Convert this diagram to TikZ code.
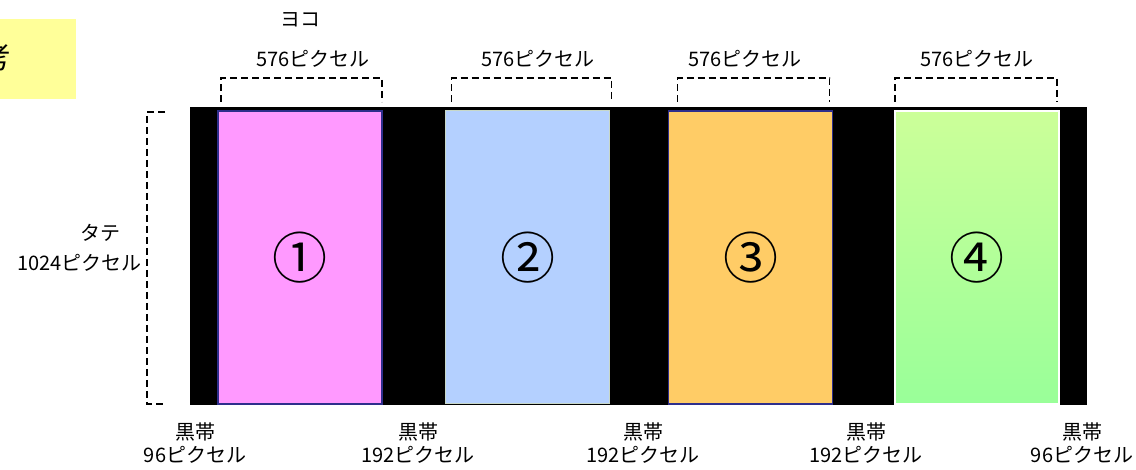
\documentclass[tikz,border=0pt]{standalone}
\usepackage{fontspec}
\setmainfont{Noto Sans CJK JP}

\definecolor{notefill}{HTML}{FFFF99}
\definecolor{pinkfill}{HTML}{FF99FF}
\definecolor{bluefill}{HTML}{B4D0FF}
\definecolor{orangefill}{HTML}{FFCC66}
\definecolor{greentop}{HTML}{CCFF99}
\definecolor{greenbot}{HTML}{99FF99}
\definecolor{navyline}{HTML}{2E2E8C}
\definecolor{paleline}{HTML}{C8D8C8}

\tikzset{
    panel/.style={minimum width=164, minimum height=293, line width=1.5pt, font=\fontsize{55}{57}\selectfont},
    label/.style={font=\fontsize{20}{23}\selectfont, align=center},
    bracket/.style={line width=1.7pt, dash pattern=on 7pt off 4pt}
}

\begin{document}
\begin{tikzpicture}[x=1pt,y=1pt]
    \useasboundingbox (0,0) rectangle (1136,469);

        \begin{scope}[every node/.style={inner sep=0pt,outer sep=0pt}]
            \node[fill=notefill,minimum width=76,minimum height=80] (note) at (38,410) {};
            \node[anchor=east,font=\fontsize{30}{32}\selectfont] (notetext) at (11,412) {考};

            \node[fill=black,minimum width=897,minimum height=298] (band) at (638.5,213) {};

            \node[panel,fill=pinkfill,draw=navyline] (1) at (300,211.5) {①};
            \node[panel,fill=bluefill,draw=paleline,line width=1pt] (2) at (527.5,211.5) {②};
            \node[panel,fill=orangefill,draw=navyline] (3) at (750.5,211.5) {③};
            \node[panel,top color=greentop,bottom color=greenbot,draw=white] (4) at (977,211.5) {④};

            \node[label] (yoko) at (300,449) {ヨコ};
            \node[label] (w1) at (313,410) {576ピクセル};
            \node[label] (w2) at (538,410) {576ピクセル};
            \node[label] (w3) at (745,410) {576ピクセル};
            \node[label] (w4) at (977,410) {576ピクセル};

            \node[label] (tate) at (100,236) {タテ};
            \node[label,anchor=east] (h) at (142,206) {1024ピクセル};

            \node[label] (b1) at (195,26) {黒帯\\96ピクセル};
            \node[label] (b2) at (418,26) {黒帯\\192ピクセル};
            \node[label] (b3) at (643,26) {黒帯\\192ピクセル};
            \node[label] (b4) at (866,26) {黒帯\\192ピクセル};
            \node[label] (b5) at (1082,26) {黒帯\\96ピクセル};
        \end{scope}

        \coordinate (ltop) at (165,357);
        \coordinate (lbot) at (165,65);

        \begin{scope}[every path/.style={bracket}]
            \draw ([xshift=3,yshift=9]1.north west) -- ++(0,24) -| ([yshift=9]1.north east);
            \draw ([xshift=6,yshift=9]2.north west) -- ++(0,24) -| ([xshift=2,yshift=9]2.north east);
            \draw ([xshift=9,yshift=9]3.north west) -- ++(0,24) -| ([xshift=-3,yshift=9]3.north east);
            \draw ([yshift=9]4.north west) -- ++(0,24) -| ([xshift=-2,yshift=9]4.north east);

            \draw (ltop) -- ++(-18,0) |- (lbot);
        \end{scope}

    \end{tikzpicture}
\end{document}
